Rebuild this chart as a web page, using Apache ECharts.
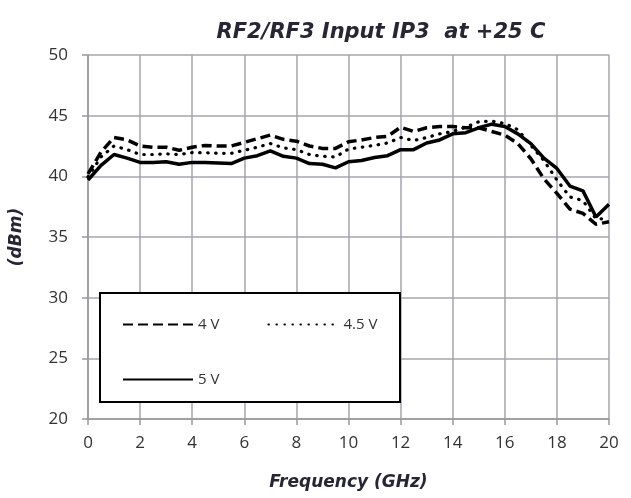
<!DOCTYPE html>
<html>
<head>
<meta charset="utf-8">
<script src="https://cdn.jsdelivr.net/npm/echarts@6/dist/echarts.min.js"></script>
<style>
html,body{margin:0;padding:0;background:#fff;}
#chart{width:631px;height:498px;}
</style>
</head>
<body>
<div id="chart"></div>
<script>
var freq = [0,0.5,1,1.5,2,2.5,3,3.5,4,4.5,5,5.5,6,6.5,7,7.5,8,8.5,9,9.5,10,10.5,11,11.5,12,12.5,13,13.5,14,14.5,15,15.5,16,16.5,17,17.5,18,18.5,19,19.5,20];
var v4  = [40.2,42.0,43.2,43.0,42.5,42.4,42.4,42.15,42.4,42.55,42.5,42.5,42.8,43.1,43.4,43.05,42.9,42.5,42.3,42.3,42.85,43.0,43.2,43.3,44.05,43.7,44.0,44.1,44.1,44.0,44.0,43.7,43.4,42.7,41.45,39.8,38.6,37.3,36.95,36.05,36.25];
var v45 = [39.95,41.6,42.5,42.2,41.8,41.8,41.85,41.8,41.95,41.95,41.9,41.9,42.15,42.4,42.7,42.35,42.2,41.8,41.65,41.6,42.25,42.4,42.55,42.75,43.2,42.95,43.2,43.5,43.7,44.05,44.5,44.55,44.35,43.85,42.55,41.3,39.7,38.3,38.0,36.5,36.5];
var v5  = [39.7,40.9,41.8,41.5,41.15,41.15,41.2,41.0,41.15,41.15,41.1,41.05,41.5,41.7,42.1,41.65,41.5,41.05,41.0,40.7,41.2,41.3,41.55,41.7,42.2,42.2,42.75,43.0,43.5,43.6,44.0,44.3,44.1,43.5,42.7,41.5,40.65,39.2,38.8,36.65,37.7];
var seriesNames = ['4 V','4.5 V','5 V'];
var xTicks = {min:0, max:20, interval:2};
var yTicks = {min:20, max:50, interval:5};

function pairs(v){ return freq.map(function(f,i){ return [f, v[i]]; }); }

var font = 'Open Sans';
var headFont = 'DejaVu Sans';
var legendCommon = {
  itemWidth:70, itemHeight:14, itemGap:48, z:10,
  itemStyle:{opacity:0},
  textStyle:{fontFamily:font, fontSize:15, color:'#333333'}
};
var chart = echarts.init(document.getElementById('chart'), null, {renderer:'canvas'});
chart.setOption({
  animation:false,
  backgroundColor:'#ffffff',
  title:{
    text:'RF2/RF3 Input IP3  at +25 C',
    left:376, top:17, textAlign:'center',
    textStyle:{fontFamily:headFont, fontSize:21, fontWeight:'bold', fontStyle:'italic', color:'#262634'}
  },
  grid:{left:86, right:22, top:55, bottom:79},
  xAxis:{
    type:'value', min:xTicks.min, max:xTicks.max, interval:xTicks.interval,
    name:'Frequency (GHz)', nameLocation:'middle', nameGap:55,
    nameTextStyle:{fontFamily:headFont, fontSize:17, fontWeight:'bold', fontStyle:'italic', color:'#262634'},
    axisLine:{show:true, lineStyle:{color:'#999999', width:1.5}},
    axisTick:{show:true, inside:false, length:6, lineStyle:{color:'#999999', width:1.5}},
    axisLabel:{fontFamily:font, fontSize:17, color:'#333333', margin:16},
    splitLine:{show:true, lineStyle:{color:'#a4a4ac', width:1.5}}
  },
  yAxis:{
    type:'value', min:yTicks.min, max:yTicks.max, interval:yTicks.interval,
    name:'(dBm)', nameLocation:'middle', nameGap:63, nameRotate:90,
    nameTextStyle:{fontFamily:headFont, fontSize:17, fontWeight:'bold', fontStyle:'italic', color:'#262634'},
    axisLine:{show:true, lineStyle:{color:'#999999', width:1.5}},
    axisTick:{show:true, inside:false, length:6, lineStyle:{color:'#999999', width:1.5}},
    axisLabel:{fontFamily:font, fontSize:17, color:'#333333', margin:20},
    splitLine:{show:true, lineStyle:{color:'#a4a4ac', width:1.5}}
  },
  graphic:[{
    type:'rect', left:99, top:292, z:5,
    shape:{width:300, height:109},
    style:{fill:'#ffffff', stroke:'#000000', lineWidth:2}
  }],
  legend:[
    Object.assign({data:[seriesNames[0], seriesNames[1]], left:117, top:312}, legendCommon),
    Object.assign({data:[seriesNames[2]], left:117, top:367}, legendCommon)
  ],
  series:[{
    name:seriesNames[0], type:'line', data:pairs(v4), showSymbol:false, symbol:'none', z:3,
    lineStyle:{color:'#000000', width:3.5, type:[10,5]}, itemStyle:{color:'#000000'}
  },{
    name:seriesNames[1], type:'line', data:pairs(v45), showSymbol:false, symbol:'none', z:3,
    lineStyle:{color:'#000000', width:3.2, type:[0.5,7.5], cap:'round'}, itemStyle:{color:'#000000'}
  },{
    name:seriesNames[2], type:'line', data:pairs(v5), showSymbol:false, symbol:'none', z:3,
    lineStyle:{color:'#000000', width:3.5, type:'solid'}, itemStyle:{color:'#000000'}
  }]
});
</script>
</body>
</html>
